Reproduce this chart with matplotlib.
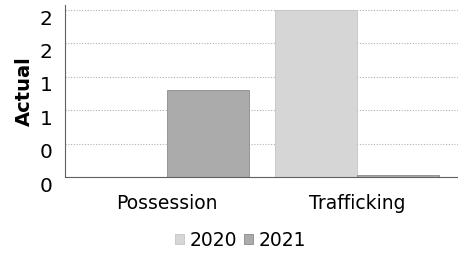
import matplotlib
matplotlib.use("Agg")
import matplotlib.pyplot as plt
import matplotlib.transforms as mtransforms
import numpy as np

# === DATA === #
categories = ["Possession", "Trafficking"]
years = ["2020", "2021"]
values_2020 = [0.0, 2.0]
values_2021 = [1.04, 0.02]
y_ticks = [0.0, 0.4, 0.8, 1.2, 1.6, 2.0]

colors = {"2020": "#d6d6d6", "2021": "#ababab"}

# === PLOT === #
fig = plt.figure(figsize=(4.58, 2.54), dpi=100)
ax = fig.add_axes([0.142, 0.303, 0.858, 0.677])

x = np.arange(len(categories))
w = 0.43
ax.bar(x - w / 2, values_2020, width=w, color=colors["2020"],
       edgecolor="#c4c4c4", linewidth=0.6, label="2020", zorder=2)
ax.bar(x + w / 2, values_2021, width=w, color=colors["2021"],
       edgecolor="#8a8a8a", linewidth=0.6, label="2021", zorder=2)

ax.set_xlim(-0.537, 1.53)
ax.set_ylim(0, 2.06)
ax.set_yticks(y_ticks)
ax.set_yticklabels([f"{v:.0f}" for v in y_ticks])
ax.grid(axis="y", linestyle=(0, (1, 1.5)), color="#b0b0b0", linewidth=0.8, zorder=0)

ax.set_xticks(x)
ax.set_xticklabels(categories, fontsize=13.5)
ax.tick_params(axis="x", length=0, pad=12)
ax.tick_params(axis="y", length=0, pad=9, labelsize=14.5)
ax.set_ylabel("Actual", fontsize=14, fontweight="bold", labelpad=4)

# the scanned labels sit a little below their gridlines
shift = mtransforms.ScaledTranslation(0, -0.07, fig.dpi_scale_trans)
for lab in ax.get_yticklabels():
    lab.set_transform(lab.get_transform() + shift)

for s in ["top", "right"]:
    ax.spines[s].set_visible(False)
ax.spines["left"].set_color("#606060")
ax.spines["bottom"].set_color("#606060")

fig.legend(loc="center", bbox_to_anchor=(0.525, 0.055), ncol=2, frameon=False,
           fontsize=13.5, handlelength=0.45, handleheight=0.45, handletextpad=0.3,
           columnspacing=0.4)

fig.savefig("out.png", dpi=100)
